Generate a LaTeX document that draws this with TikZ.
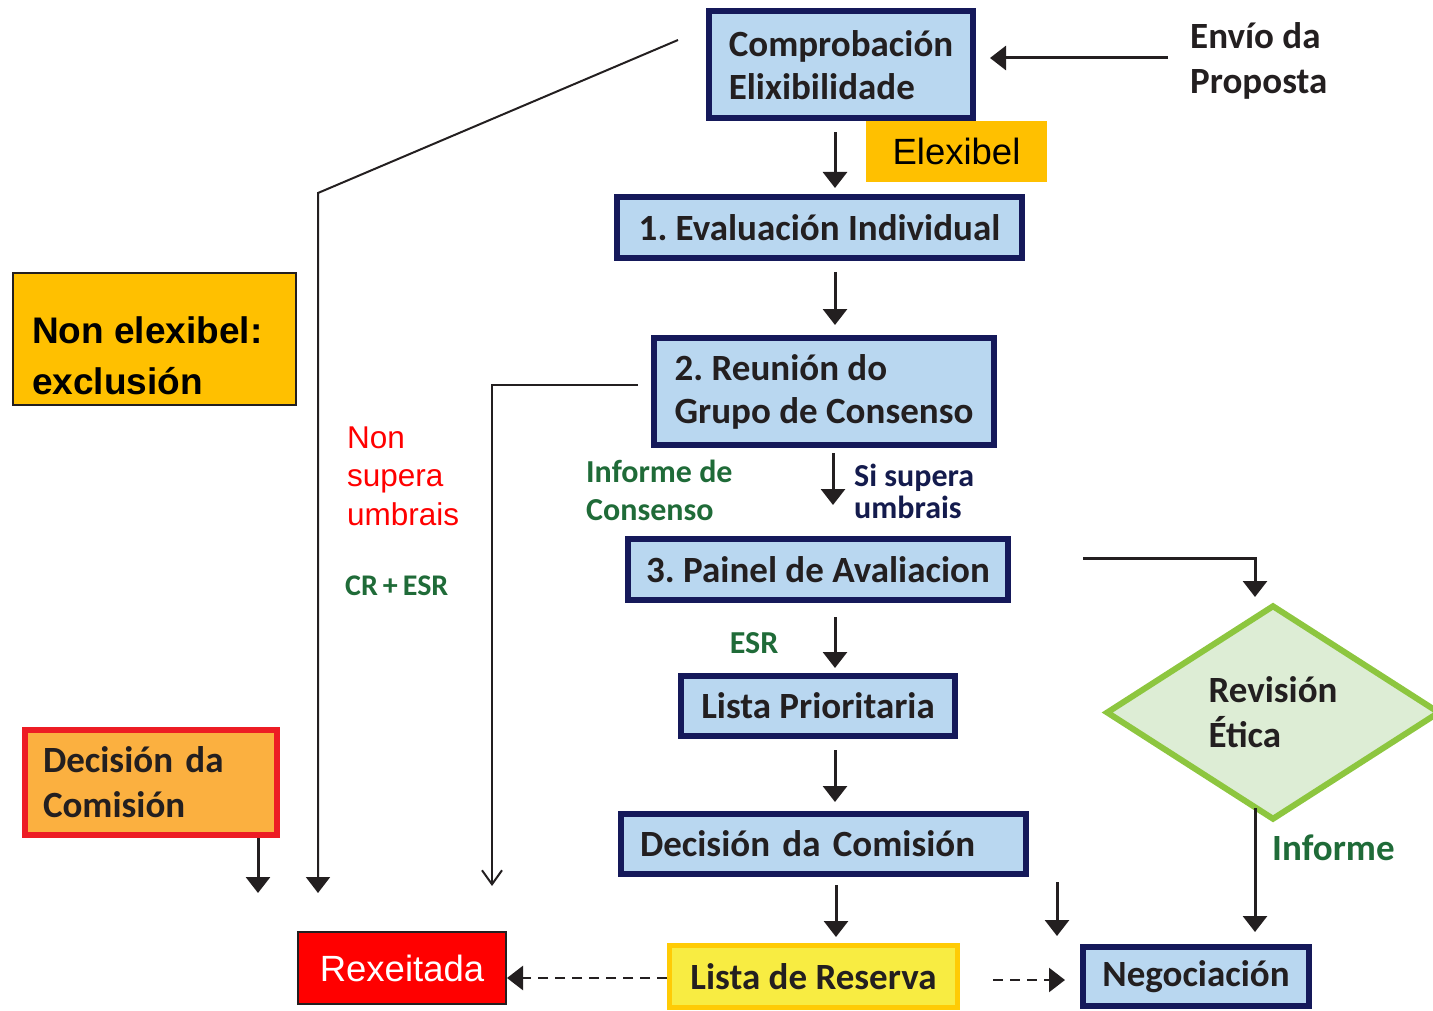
\documentclass[tikz,border=0pt]{standalone}
\usepackage{fontspec}
\setmainfont{Carlito}
\newfontfamily\arialf{Liberation Sans}
\usetikzlibrary{arrows.meta,shapes.geometric}
\definecolor{navy}{HTML}{15195A}
\definecolor{lblue}{HTML}{B9D7F0}
\definecolor{goldf}{HTML}{FFC000}
\definecolor{dark}{HTML}{231F20}
\definecolor{gtext}{HTML}{1F6B38}
\definecolor{gfill}{HTML}{DDEDD5}
\definecolor{gline}{HTML}{8DC63F}
\definecolor{orangef}{HTML}{FBB040}
\definecolor{redb}{HTML}{ED1C24}
\definecolor{yellowf}{HTML}{F8EC42}
\definecolor{yellowb}{HTML}{FFCB05}
\definecolor{navyt}{HTML}{141B4D}
\frenchspacing
\begin{document}
\begin{tikzpicture}[x=1pt,y=-1pt,
  bluebox/.style={draw=navy, line width=6pt, fill=lblue, inner sep=0pt, text=dark,
    font=\bfseries\fontsize{37}{43}\selectfont},
  arr/.style={line width=3pt, draw=dark, -{Triangle[width=24pt,length=16pt]}},
  thinarr/.style={line width=2pt, draw=dark, -{Triangle[width=24pt,length=16pt]}},
  dasharr/.style={line width=2.5pt, draw=dark, dash pattern=on 10pt off 7pt, -{Triangle[width=24pt,length=16pt]}},
  openarr/.style={line width=2pt, draw=dark, -{Straight Barb[width=20pt,length=14pt]}},
  gtxt/.style={text=gtext, font=\bfseries\fontsize{32}{38}\selectfont, inner sep=0pt, align=left},
]
\useasboundingbox (0,0) rectangle (1433,1011);
\begin{scope}
\clip (0,0) rectangle (1433,1011);
\node[diamond, draw=gline, fill=gfill, line width=6pt, minimum width=334pt, minimum height=215pt,
  aspect=1.553, inner sep=0pt, align=left, text=dark, font=\bfseries\fontsize{37}{45}\selectfont]
  (rev) at (1273,712.5) {Revisión\\Ética};
\end{scope}

% main column
\node[bluebox, minimum width=264pt, minimum height=107pt, align=left] (c1) at (841,65) {Comprobación\\Elixibilidade};
\node[fill=goldf, minimum width=181pt, minimum height=61pt, inner sep=0pt,
  font=\arialf\fontsize{36.5}{40}\selectfont] (elx) at (956.5,151.5) {Elexibel};
\node[bluebox, minimum width=405pt, minimum height=61pt] (e1) at (819.5,227.5) {1. Evaluación Individual};
\node[bluebox, minimum width=340pt, minimum height=107pt, align=left] (b2) at (824,391.5) {2. Reunión do\\Grupo de Consenso};
\node[bluebox, minimum width=380pt, minimum height=61pt] (b3) at (818,569.5) {3. Painel de Avaliacion};
\node[bluebox, minimum width=274pt, minimum height=60pt] (lp) at (818,706) {Lista Prioritaria};
\node[bluebox, minimum width=405pt, minimum height=60pt, text width=367pt, align=left] (dc) at (823.5,844) {Decisión da Comisión};
\node[bluebox, minimum width=226pt, minimum height=59pt] (neg) at (1196,976.5) {Negociación};
\node[draw=yellowb, fill=yellowf, line width=5pt, minimum width=288pt, minimum height=62pt, inner sep=0pt, text=dark,
  font=\bfseries\fontsize{37}{43}\selectfont] (lr) at (813.5,976.5) {Lista de Reserva};
\node[draw=dark, fill=red, line width=2pt, minimum width=208pt, minimum height=72pt, inner sep=0pt, text=white,
  font=\arialf\fontsize{36.5}{40}\selectfont] (rex) at (402,968) {Rexeitada};

% left boxes
\node[draw=dark, fill=goldf, line width=2pt, minimum width=283pt, minimum height=132pt, inner sep=0pt] (nex) at (154.5,339) {};
\node[anchor=west, inner sep=0pt, align=left, text=black, font=\arialf\bfseries\fontsize{37}{51}\selectfont] (nextxt) at (32,356) {Non elexibel:\\exclusión};
\node[draw=redb, fill=orangef, line width=6pt, minimum width=252pt, minimum height=105pt, inner sep=0pt,
  text width=216pt, align=left, text=dark, font=\bfseries\fontsize{37}{45}\selectfont] (dcl) at (151,782.5) {Decisión da\\Comisión};

% labels
\node[anchor=west, inner sep=0pt, align=left, text=dark, font=\bfseries\fontsize{37}{45}\selectfont] (env) at (1190,61) {Envío da\\Proposta};
\node[gtxt, anchor=west] (infc) at (586,490) {Informe de\\Consenso};
\node[anchor=west, inner sep=0pt, align=left, text=navyt, font=\bfseries\fontsize{32}{32}\selectfont] (sis) at (854,491) {Si supera\\umbrais};
\node[anchor=west, inner sep=0pt, align=left, text=red, font=\arialf\fontsize{31.5}{38.5}\selectfont] (nsu) at (347,476) {Non\\supera\\umbrais};
\node[gtxt, anchor=west, font=\bfseries\fontsize{30}{38}\selectfont] (cresr) at (345,586) {CR\,+\,ESR};
\node[gtxt] (esr) at (754,643) {ESR};
\node[anchor=west, inner sep=0pt, text=gtext, font=\bfseries\fontsize{37}{40}\selectfont] (inf) at (1272,848) {Informe};

% coordinates
\coordinate (X835) at (835,0);
\coordinate (X833) at (833,0);
\coordinate (X836) at (836,0);
\coordinate (X1255) at (1255,0);
\coordinate (X258) at (258,0);
\coordinate (envs) at (1168,58);
\coordinate (a7s) at (1057,882);
\coordinate (a8s) at (1083,558);
\coordinate (a9s) at (1255,808);
\coordinate (d1) at (678,40);
\coordinate (d2) at (318,193);
\coordinate (d3) at (318,893);
\coordinate (r1) at (638,385);
\coordinate (r2) at (492,385);
\coordinate (r3) at (492,886);
\coordinate (dclb) at (258,893);

% connectors
\draw[arr, shorten >=14pt] (envs) -- (envs -| c1.east);
\draw[arr, shorten <=11pt, shorten >=6pt] (c1.south -| X835) -- (e1.north -| X835);
\draw[arr, shorten <=11pt, shorten >=10pt] (e1.south -| X835) -- (b2.north -| X835);
\draw[arr, shorten <=5pt, shorten >=31pt] (b2.south -| X833) -- (b3.north -| X833);
\draw[arr, shorten <=14pt, shorten >=5pt] (b3.south -| X835) -- (lp.north -| X835);
\draw[arr, shorten <=11pt, shorten >=9pt] (lp.south -| X835) -- (dc.north -| X835);
\draw[arr, shorten <=8pt, shorten >=6pt] (dc.south -| X836) -- (lr.north -| X836);
\draw[arr, shorten >=8pt] (a7s) -- (a7s |- neg.north);
\draw[arr] (a8s) -- (a8s -| X1255) -- (1255,597);
\draw[arr, shorten >=12pt] (a9s) -- (a9s |- neg.north);
\draw[dasharr] (lr.west |- 0,978) -- (rex.east |- 0,978);
\draw[dasharr, shorten <=33pt, shorten >=15pt] (lr.east |- 0,980) -- (neg.west |- 0,980);
\draw[thinarr] (d1) -- (d2) -- (d3);
\draw[openarr] (r1) -- (r2) -- (r3);
\draw[arr] (dcl.south -| X258) -- (dclb);
\end{tikzpicture}
\end{document}
